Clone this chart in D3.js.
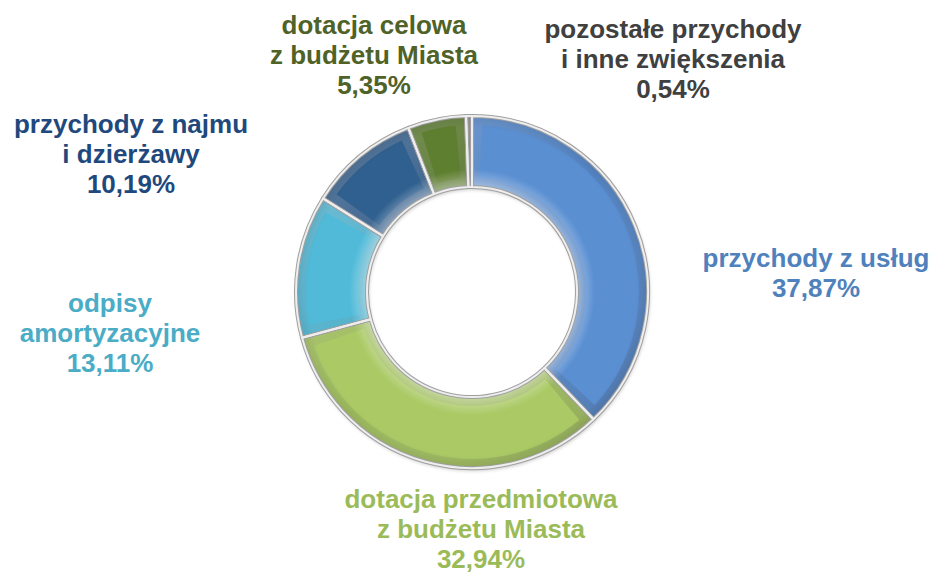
<!DOCTYPE html>
<html>
<head>
<meta charset="utf-8">
<script src="https://cdn.jsdelivr.net/npm/d3@7"></script>
<style>
  body { margin: 0; background: #ffffff; }
  svg { display: block; }
</style>
</head>
<body>
<div class="container"></div>
<script>
// data
var categories = ["przychody z usług", "dotacja przedmiotowa z budżetu Miasta", "odpisy amortyzacyjne",
                  "przychody z najmu i dzierżawy", "dotacja celowa z budżetu Miasta", "pozostałe przychody i inne zwiększenia"];
var shares = [37.87, 32.94, 13.11, 10.19, 5.35, 0.54];
var labelLines = [
  ["przychody z usług"],
  ["dotacja przedmiotowa", "z budżetu Miasta"],
  ["odpisy", "amortyzacyjne"],
  ["przychody z najmu", "i dzierżawy"],
  ["dotacja celowa", "z budżetu Miasta"],
  ["pozostałe przychody", "i inne zwiększenia"]
];

// styles
var sliceColors = ["#5a8fd2", "#abca66", "#51bad8", "#30608f", "#5f7f30", "#8c8c8c"];
var textColors  = ["#4f81bd", "#9bbb59", "#4bacc6", "#1f497d", "#4f6228", "#404040"];
// label anchor (center x, first baseline y) - placed by hand like in the original
var labelPos = [[816, 267], [481, 508], [110, 312], [131, 133], [374, 34], [673, 38]];

var W = 934, H = 572;
var cx = 472, cy = 292, rOut = 176, rIn = 105;

//makes the stage
function makeStage(w, h) {
  return d3.select(".container")
    .append("svg")
    .attr("width", w)
    .attr("height", h)
    .style("background-color", "#ffffff");
}

var stage = makeStage(W, H);
var defs = stage.append("defs");

// light from top-left for the bevel faces
var shade = defs.append("linearGradient")
  .attr("id", "shade")
  .attr("gradientUnits", "userSpaceOnUse")
  .attr("x1", -rOut).attr("y1", -rOut)
  .attr("x2", rOut).attr("y2", rOut);
shade.append("stop").attr("offset", 0).attr("stop-color", "#ffffff").attr("stop-opacity", 0.25);
shade.append("stop").attr("offset", 0.5).attr("stop-color", "#ffffff").attr("stop-opacity", 0);
shade.append("stop").attr("offset", 1).attr("stop-color", "#000000").attr("stop-opacity", 0.18);

// soft highlight near inner rim
var glow = defs.append("radialGradient")
  .attr("id", "glow")
  .attr("gradientUnits", "userSpaceOnUse")
  .attr("cx", 0).attr("cy", 0).attr("r", rOut);
glow.append("stop").attr("offset", rIn / rOut).attr("stop-color", "#ffffff").attr("stop-opacity", 0.4);
glow.append("stop").attr("offset", (rIn + 18) / rOut).attr("stop-color", "#ffffff").attr("stop-opacity", 0);
glow.append("stop").attr("offset", 0.93).attr("stop-color", "#000000").attr("stop-opacity", 0);
glow.append("stop").attr("offset", 1).attr("stop-color", "#000000").attr("stop-opacity", 0.08);

var shadow = defs.append("filter").attr("id", "shadow")
  .attr("x", "-20%").attr("y", "-20%").attr("width", "140%").attr("height", "140%");
shadow.append("feGaussianBlur").attr("in", "SourceAlpha").attr("stdDeviation", 2);
shadow.append("feOffset").attr("dx", 1).attr("dy", 2).attr("result", "blur");
shadow.append("feComponentTransfer").append("feFuncA").attr("type", "linear").attr("slope", 0.3);
var merge = shadow.append("feMerge");
merge.append("feMergeNode");
merge.append("feMergeNode").attr("in", "SourceGraphic");

var pie = d3.pie().sort(null).value(function (d) { return d; })
  .startAngle(0).endAngle(2 * Math.PI);
var arcs = pie(shares);

var arcFull = d3.arc().innerRadius(rIn).outerRadius(rOut);
var bevel = 9;
function trim(d) {
  return Math.min(bevel / ((rIn + rOut) / 2), (d.endAngle - d.startAngle) / 2.5);
}
var arcTop = d3.arc()
  .innerRadius(rIn + bevel)
  .outerRadius(rOut - bevel)
  .startAngle(function (d) { return d.startAngle + trim(d); })
  .endAngle(function (d) { return d.endAngle - trim(d); });

var donut = stage.append("g")
  .attr("transform", "translate(" + cx + "," + cy + ")");

// ring with shadow
donut.append("g").attr("filter", "url(#shadow)")
  .selectAll("path.base").data(arcs).enter().append("path")
  .attr("class", "base")
  .attr("d", arcFull)
  .attr("fill", function (d, i) { return d3.rgb(sliceColors[i]).darker(0.2); });

// bevel faces
donut.selectAll("path.face").data(arcs).enter().append("path")
  .attr("class", "face")
  .attr("d", arcFull)
  .attr("fill", "url(#shade)");

// flat top of each slice
donut.selectAll("path.top").data(arcs).enter().append("path")
  .attr("class", "top")
  .attr("d", arcTop)
  .attr("fill", function (d, i) { return sliceColors[i]; });

// rim highlight
donut.selectAll("path.glow").data(arcs).enter().append("path")
  .attr("class", "glow")
  .attr("d", arcFull)
  .attr("fill", "url(#glow)");

// outline
donut.selectAll("path.edge").data(arcs).enter().append("path")
  .attr("class", "edge")
  .attr("d", arcFull)
  .attr("fill", "none")
  .attr("stroke", "#a0a0a0")
  .attr("stroke-width", 4)
  .attr("stroke-linejoin", "round");
donut.selectAll("path.edge2").data(arcs).enter().append("path")
  .attr("class", "edge2")
  .attr("d", arcFull)
  .attr("fill", "none")
  .attr("stroke", "#eeeeee")
  .attr("stroke-width", 2)
  .attr("stroke-linejoin", "round");

// labels
function fmt(v) { return v.toFixed(2).replace(".", ",") + "%"; }

shares.forEach(function (v, i) {
  var lines = labelLines[i].concat([fmt(v)]);
  var t = stage.append("text")
    .attr("x", labelPos[i][0])
    .attr("y", labelPos[i][1])
    .attr("font-family", "'Liberation Sans', Arial, sans-serif")
    .attr("font-weight", "bold")
    .attr("font-size", 26)
    .attr("text-anchor", "middle")
    .attr("fill", textColors[i]);
  lines.forEach(function (s, k) {
    t.append("tspan").attr("x", labelPos[i][0]).attr("dy", k === 0 ? 0 : 30).text(s);
  });
});
</script>
</body>
</html>
